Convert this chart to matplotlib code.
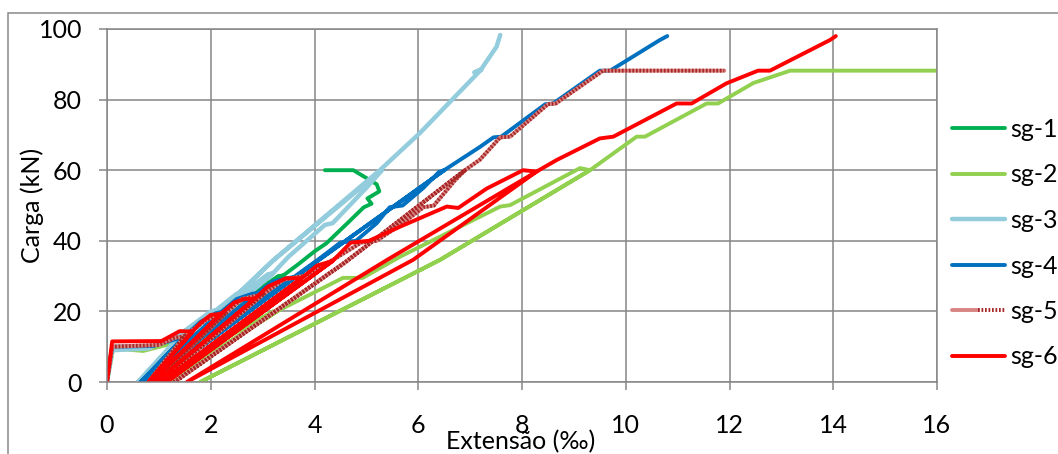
import matplotlib
matplotlib.use("Agg")
import matplotlib.pyplot as plt
from matplotlib.patches import Rectangle
from matplotlib.legend_handler import HandlerTuple

plt.rcParams['font.family'] = ['Lato', 'DejaVu Sans']

# strain (per mil) / load (kN) paths
sg1_x = [0, 0.1, 0.77, 1.08, 1.4, 0.75, 1.4, 1.7, 2.0, 2.1, 0.8, 2.1, 2.4, 2.7, 2.8, 0.85,
         2.8, 3.1, 3.3, 3.4, 0.9, 3.4, 3.7, 4.0, 4.23, 4.6, 4.95, 5.1, 5.02, 5.25, 5.2, 4.75, 4.2]
sg1_y = [0, 9.5, 9.6, 10.5, 12, 0, 12, 16, 19.5, 19.8, 0, 19.8, 23, 25, 25.2, 0,
         25.2, 28, 30, 30.2, 0, 30.2, 33.5, 37, 39.3, 44.5, 49.5, 50.5, 52, 54, 56, 60, 60]

sg2_x = [0, 0.12, 0.7, 1.15, 1.45, 1.0, 1.45, 2.3, 3.2, 3.3, 1.15,
         3.3, 4.55, 4.93, 5.65, 7.58, 7.77, 9.12, 9.31, 6.42, 1.8, 6.42, 9.31,
         10.21, 10.37, 11.56, 11.78, 12.46, 13.17, 16.0]
sg2_y = [0, 9.5, 8.8, 10.5, 12, 0, 12, 12.5, 20, 20.2, 0,
         20.2, 29.5, 29.5, 35.5, 49.7, 50.1, 60.6, 60, 34.6, 0, 34.6, 60,
         69.5, 69.5, 78.9, 78.9, 84.7, 88.2, 88.2]

sg3_x = [0, 0.1, 0.8, 1.3, 1.5, 0.6, 1.5, 2.0, 2.1, 0.62, 2.1, 2.5, 2.65, 0.65,
         2.65, 3.1, 3.2, 0.68, 3.2, 3.5, 4.2, 4.35, 5.0, 5.3, 3.2, 0.75,
         3.2, 5.26, 6.03, 7.22, 7.08, 7.2, 7.38, 7.51, 7.58]
sg3_y = [0, 9, 9.5, 13, 14.5, 0, 14.5, 20, 20.3, 0, 20.3, 25, 25.5, 0,
         25.5, 30.5, 30.8, 0, 30.8, 35.5, 44.5, 45, 55, 60, 34.4, 0,
         34.4, 60, 70.5, 88.6, 87.7, 88.3, 92.2, 95, 98.3]

sg4_x = [0, 0.1, 0.9, 1.3, 1.5, 0.65, 1.5, 1.8, 2.1, 2.2, 0.7, 2.2, 2.5, 2.8, 2.9, 0.75,
         2.9, 3.2, 3.5, 3.6, 0.8, 3.6, 4.1, 4.5, 4.8, 5.2, 5.45, 5.7, 6.1, 6.4, 6.5, 4.0, 0.9,
         4.0, 6.5, 7.19, 7.45, 7.6, 8.45, 8.6, 9.5, 9.7, 10.66, 10.8]
sg4_y = [0, 10, 10.2, 12, 13, 0, 13, 17, 19.5, 19.8, 0, 19.8, 23.5, 25, 25.2, 0,
         25.2, 28.5, 29.5, 29.7, 0, 29.7, 35, 39.5, 40, 45, 49.5, 50, 55, 59.5, 60, 33.7, 0,
         33.7, 60, 66.6, 69.3, 69.5, 78.7, 78.9, 88.2, 88.2, 96.9, 98]

sg5_x = [0, 0.1, 1.0, 1.3, 1.5, 0.8, 1.5, 1.9, 2.2, 2.3, 0.9, 2.3, 2.6, 2.9, 3.0, 1.0,
         3.0, 3.4, 3.7, 3.8, 1.1, 3.8, 4.4, 4.9, 5.2, 5.7, 6.1, 6.3, 6.7, 6.9, 4.6, 1.3,
         4.6, 6.9, 7.19, 7.58, 7.77, 8.5, 8.65, 9.56, 11.9]
sg5_y = [0, 10, 10.5, 12.5, 13, 0, 13, 17.5, 19.5, 19.7, 0, 19.7, 23.5, 24.5, 24.7, 0,
         24.7, 29, 29.8, 30, 0, 30, 35, 39.5, 40, 45, 49.5, 50, 57, 60, 34, 0,
         34, 60, 63, 69.3, 69.5, 78.7, 78.9, 88.2, 88.2]

sg6_x = [0, 0.1, 1.05, 1.4, 1.65, 0.8, 1.65, 1.8, 2.0, 2.2, 0.85, 2.2, 2.45, 2.65, 2.85, 0.95,
         2.85, 3.1, 3.45, 3.75, 1.05, 3.75, 4.05, 4.35, 1.15,
         4.35, 4.7, 5.05, 5.65, 6.55, 6.77, 7.32, 8.02, 8.28, 5.9, 1.54,
         5.4, 8.28, 8.67, 9.5, 9.76, 10.98, 11.27, 11.94, 12.55, 12.78, 13.94, 14.05]
sg6_y = [0, 11.5, 11.6, 14.4, 14.3, 0, 14.3, 16.7, 19, 19.3, 0, 19.3, 22.5, 23.5, 23.6, 0,
         23.6, 27, 29.4, 29.4, 0, 29.4, 33, 34.3, 0,
         34.3, 39.5, 40, 44, 49.7, 49.3, 54.8, 60, 59.6, 34.6, 0,
         34.6, 59.6, 62.9, 69, 69.5, 78.9, 78.9, 84.6, 88.2, 88.2, 96.9, 98]

labels = ['sg-1', 'sg-2', 'sg-3', 'sg-4', 'sg-5', 'sg-6']
x_ticks = [0, 2, 4, 6, 8, 10, 12, 14, 16]
y_ticks = [0, 20, 40, 60, 80, 100]

W, H = 1058, 454
fs = 18
fig = plt.figure(figsize=(W / 100, H / 100), dpi=100)
ax = fig.add_axes([107 / W, 1 - 382 / H, 830 / W, 353 / H])

lw = 2.8
kw = dict(lw=lw, solid_joinstyle='round', solid_capstyle='round')
l1, = ax.plot(sg1_x, sg1_y, color='#00B050', **kw)
l2, = ax.plot(sg2_x, sg2_y, color='#92D050', **kw)
l3, = ax.plot(sg3_x, sg3_y, color='#93CDDD', lw=3.2, solid_joinstyle='round', solid_capstyle='round')
l4, = ax.plot(sg4_x, sg4_y, color='#0070C0', **kw)
l5a, = ax.plot(sg5_x, sg5_y, color='#D88583', **kw)
l5b, = ax.plot(sg5_x, sg5_y, color='#A82828', lw=lw, ls=(0, (0.45, 0.45)))
l6, = ax.plot(sg6_x, sg6_y, color='#FF0000', **kw)

ax.set_xlim(0, 16)
ax.set_ylim(0, 100)
ax.set_xticks(x_ticks)
ax.set_yticks(y_ticks)
ax.grid(True, color='#868686', lw=1.1)
ax.set_axisbelow(True)
for s in ax.spines.values():
    s.set_color('#868686')
    s.set_linewidth(1.1)
ax.tick_params(axis='both', length=6, width=1.1, color='#868686', labelsize=fs)
ax.tick_params(axis='y', pad=12)
ax.tick_params(axis='x', pad=17)

fig.text(32 / W, 1 - 205 / H, 'Carga (kN)', rotation=90, ha='center', va='center', fontsize=fs)
fig.text(521 / W, 1 - 442 / H, 'Extensão (‰)', ha='center', va='center', fontsize=fs)

fig.legend([l1, l2, l3, l4, (l5a, l5b), l6], labels,
           handler_map={tuple: HandlerTuple(ndivide=None)},
           loc='upper left', bbox_to_anchor=(952 / W, 1 - 118 / H),
           frameon=False, fontsize=fs, handlelength=2.1, handletextpad=0.22,
           labelspacing=0.9, borderaxespad=0, borderpad=0)

# outer chart border (only top and left edges are inside the picture)
fig.patches.append(Rectangle((8 / W, -0.5), 2, 1.5 - 13 / H, transform=fig.transFigure,
                             fill=False, edgecolor='#898989', lw=1.1))

fig.savefig('out.png', dpi=100)
